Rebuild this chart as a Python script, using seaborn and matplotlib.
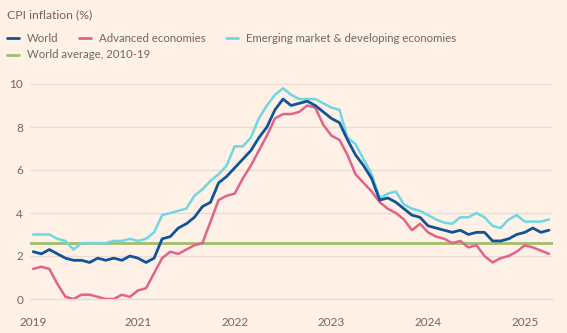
import numpy as np
import pandas as pd
import matplotlib
matplotlib.use("Agg")
import matplotlib.pyplot as plt
import seaborn as sns
from matplotlib.lines import Line2D

# ---- data (monthly, Dec 2019 .. Apr 2025) ----
months = pd.date_range("2019-12-01", periods=65, freq="MS")
world = [2.2, 2.1, 2.3, 2.1, 1.9, 1.8, 1.8, 1.7, 1.9, 1.8, 1.9, 1.8, 2.0, 1.9, 1.7, 1.9,
         2.8, 2.9, 3.3, 3.5, 3.8, 4.3, 4.5, 5.4, 5.7, 6.1, 6.5, 6.9, 7.5, 8.0, 8.8, 9.3,
         9.0, 9.1, 9.2, 9.0, 8.7, 8.4, 8.2, 7.4, 6.7, 6.2, 5.6, 4.6, 4.7, 4.5, 4.2, 3.9,
         3.8, 3.4, 3.3, 3.2, 3.1, 3.2, 3.0, 3.1, 3.1, 2.7, 2.7, 2.8, 3.0, 3.1, 3.3, 3.1, 3.2]
advanced = [1.4, 1.5, 1.4, 0.7, 0.1, 0.0, 0.2, 0.2, 0.1, 0.0, 0.0, 0.2, 0.1, 0.4, 0.5, 1.2,
            1.9, 2.2, 2.1, 2.3, 2.5, 2.6, 3.6, 4.6, 4.8, 4.9, 5.6, 6.2, 6.9, 7.6, 8.4, 8.6,
            8.6, 8.7, 9.0, 8.9, 8.1, 7.6, 7.4, 6.7, 5.8, 5.4, 5.0, 4.5, 4.2, 4.0, 3.7, 3.2,
            3.5, 3.1, 2.9, 2.8, 2.6, 2.7, 2.4, 2.5, 2.0, 1.7, 1.9, 2.0, 2.2, 2.5, 2.4, 2.25, 2.1]
emerging = [3.0, 3.0, 3.0, 2.8, 2.7, 2.3, 2.6, 2.6, 2.6, 2.6, 2.7, 2.7, 2.8, 2.7, 2.8, 3.1,
            3.9, 4.0, 4.1, 4.2, 4.8, 5.1, 5.5, 5.8, 6.2, 7.1, 7.1, 7.5, 8.4, 9.0, 9.5, 9.8,
            9.5, 9.3, 9.3, 9.3, 9.1, 8.9, 8.8, 7.5, 7.2, 6.5, 5.8, 4.7, 4.9, 5.0, 4.4, 4.2,
            4.1, 3.9, 3.7, 3.55, 3.5, 3.8, 3.8, 4.0, 3.8, 3.4, 3.3, 3.7, 3.9, 3.6, 3.6, 3.6, 3.7]
world_avg_2010_19 = 2.6

series_names = ["World", "Advanced economies", "Emerging market & developing economies"]
avg_name = "World average, 2010-19"
tick_years = ["2019", "2021", "2022", "2023", "2024", "2025"]
tick_months = ["2019-12", "2021-01", "2022-01", "2023-01", "2024-01", "2025-01"]
y_ticks = [0, 2, 4, 6, 8, 10]

# ---- style ----
BG = "#FFF1E5"
TXT = "#6E6862"
GRID = "#E8DDD3"
colors = {"World": "#0F5499",
          "Advanced economies": "#E3628C",
          "Emerging market & developing economies": "#6FD7E4"}
AVG_COL = "#A0BE6E"

sns.set_theme(style="white")
plt.rcParams["font.family"] = ["Lato", "DejaVu Sans"]

W, H = 567, 333
fig = plt.figure(figsize=(W / 100, H / 100), dpi=100, facecolor=BG)

def px(x, y):
    return x / W, 1 - y / H

ax_left, ax_right = 30, 553
ax_bot_px = 299
ymax = 10.3
ax_top_px = ax_bot_px - ymax * 21.5
ax = fig.add_axes([ax_left / W, (H - ax_bot_px) / H,
                   (ax_right - ax_left) / W, (ax_bot_px - ax_top_px) / H])
ax.set_facecolor(BG)

idx = np.arange(len(months))
df = pd.DataFrame({"idx": idx, "World": world, "Advanced economies": advanced,
                   "Emerging market & developing economies": emerging})
long = df.melt(id_vars="idx", var_name="series", value_name="value")

ax.axhline(world_avg_2010_19, color=AVG_COL, lw=2.0, zorder=2)
draw_order = ["Emerging market & developing economies", "Advanced economies", "World"]
lws = {"World": 2.0, "Advanced economies": 1.8, "Emerging market & developing economies": 1.8}
for i, name in enumerate(draw_order):
    sns.lineplot(data=long[long["series"] == name], x="idx", y="value", color=colors[name],
                 lw=lws[name], ax=ax, legend=False, zorder=3 + i)

ax.set_xlim(-0.4, 64.5)
ax.set_ylim(0, ymax)
ax.set_xlabel("")
ax.set_ylabel("")
for s in ["top", "right", "left"]:
    ax.spines[s].set_visible(False)
ax.spines["bottom"].set_color(GRID)
ax.spines["bottom"].set_linewidth(1.0)
ax.spines["bottom"].set_zorder(1)

ax.set_yticks(y_ticks)
ax.set_yticklabels([str(v) for v in y_ticks])
ax.yaxis.grid(True, color=GRID, lw=1.0, zorder=0)
ax.set_axisbelow(True)
ax.tick_params(axis="y", length=0, pad=5, labelsize=8.5, labelcolor=TXT)

month_str = [m.strftime("%Y-%m") for m in months]
major_pos = [month_str.index(t) for t in tick_months]
ax.set_xticks(major_pos)
ax.set_xticklabels(tick_years)
ax.set_xticks(idx, minor=True)
ax.tick_params(axis="x", which="major", length=5, width=0.8, color="#DDD1C6",
               pad=8, labelsize=8.5, labelcolor=TXT)
ax.tick_params(axis="x", which="minor", length=4, width=0.8, color="#E5DAD0")

# ---- title and legend ----
fig.text(*px(7, 15), "CPI inflation (%)", fontsize=8.8, color=TXT, va="center", ha="left")

legend_items = [("World", colors["World"], 7, 38),
                ("Advanced economies", colors["Advanced economies"], 79, 38),
                ("Emerging market & developing economies",
                 colors["Emerging market & developing economies"], 226, 38),
                (avg_name, AVG_COL, 7, 55)]
for label, col, x0, y0 in legend_items:
    (x1, y1), (x2, _) = px(x0, y0), px(x0 + 12, y0)
    fig.add_artist(Line2D([x1, x2], [y1, y1], color=col, lw=2.0, transform=fig.transFigure))
    fig.text(*px(x0 + 20, y0), label, fontsize=8.2, color=TXT, va="center", ha="left")

fig.savefig("out.png", dpi=100, facecolor=BG)
